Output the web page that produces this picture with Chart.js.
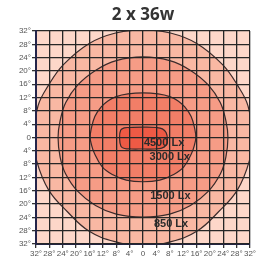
<!DOCTYPE html>
<html><head><meta charset="utf-8">
<script src="https://cdn.jsdelivr.net/npm/chart.js@4/dist/chart.umd.min.js"></script>
<style>html,body{margin:0;padding:0;background:#fff;overflow:hidden}</style>
</head><body>
<canvas id="c" width="265" height="260"></canvas>
<script>
// ---- data (degrees) ----
const chartTitle = '2 x 36w';
const tickLabels = ['32°','28°','24°','20°','16°','12°','8°','4°','0','4°','8°','12°','16°','20°','24°','28°','32°'];
const contourNames = ['850 Lx', '1500 Lx', '3000 Lx', '4500 Lx'];

const lux850X = [0, 8.2, 16.2, 23.8, 28.2, 31.4, 32.6, 31.8, 28.2, 22.6, 16.2, 8.4, 0, -8.4, -16.2, -22.6, -28.2, -31.8, -32.6, -31.4, -28.2, -23.8, -16.2, -8.2];
const lux850Y = [32.3, 31.4, 28.2, 21.9, 15.8, 9.5, 0, -7.0, -15.8, -22.3, -28.1, -31.3, -32.6, -31.3, -28.1, -22.3, -15.8, -7.0, 0, 9.5, 15.8, 21.9, 28.2, 31.4];

const lux1500X = [0, 8, 14, 19.5, 23.1, 24.8, 25.4, 24.8, 23.2, 19.5, 14.2, 8, 0, -8, -14.2, -19.5, -23.2, -24.8, -25.4, -24.8, -23.1, -19.5, -14, -8];
const lux1500Y = [24.2, 23.1, 20.3, 15.8, 10.5, 5, 0, -5.8, -10.8, -16.2, -20.4, -23, -23.9, -23, -20.4, -16.2, -10.8, -5.8, 0, 5, 10.5, 15.8, 20.3, 23.1];

const lux3000X = [0, 4.5, 8, 10.5, 12.5, 14.4, 15.5, 15.8, 15.5, 14.6, 12.2, 9, 5, 0, -5, -9, -12.2, -14.6, -15.5, -15.8, -15.5, -14.4, -12.5, -10.5, -8, -4.5];
const lux3000Y = [13.4, 13.1, 12.3, 11, 9.2, 6.3, 2.5, 0, -1.8, -4.6, -8.8, -11.2, -12.8, -13.3, -12.8, -11.2, -8.8, -4.6, -1.8, 0, 2.5, 6.3, 9.2, 11, 12.3, 13.1];

const lux4500X = [-4, 0, 4, 5.8, 6.9, 7.3, 6.9, 5.6, 3.5, 0, -3.5, -5.5, -6.6, -7.0, -6.7, -5.6];
const lux4500Y = [3.0, 3.1, 3.0, 2.6, 1.5, -0.5, -2.3, -3.2, -3.45, -3.45, -3.45, -3.3, -2.6, -0.3, 2.2, 2.9];

const labelX = [8.4, 8.2, 8.0, 6.3];
const labelY = [-26.1, -17.7, -5.9, -1.6];

// ---- styles ----
const plotBg = '#fdd7c9';
const fills = ['#f9b8a3', '#f69c86', '#f27e67', '#ee5a45'];

const toPts = (xs, ys) => xs.map((x, i) => ({x, y: ys[i]}));
const contours = [
  toPts(lux850X, lux850Y),
  toPts(lux1500X, lux1500Y),
  toPts(lux3000X, lux3000Y),
  toPts(lux4500X, lux4500Y)
];

// innermost first so it is drawn on top
const datasets = [3, 2, 1, 0].map(k => ({
  label: contourNames[k],
  data: contours[k],
  showLine: true,
  fill: 'shape',
  backgroundColor: fills[k],
  borderColor: '#3a2a2a',
  borderWidth: 1.2,
  tension: 0.4,
  pointRadius: 0,
  pointHoverRadius: 0
}));

const loopPlugin = {
  id: 'loopPlugin',
  afterDatasetsUpdate(chart) {
    chart.data.datasets.forEach((ds, i) => {
      const line = chart.getDatasetMeta(i).dataset;
      if (line) {
        line._loop = true;
        line._fullLoop = true;
        delete line._segments;
        line._path = undefined;
        line._pointsUpdated = false;
      }
    });
  }
};

const bgPlugin = {
  id: 'bgPlugin',
  beforeDraw(chart) {
    const {ctx, chartArea: a} = chart;
    ctx.save();
    ctx.fillStyle = plotBg;
    ctx.fillRect(a.left, a.top, a.right - a.left, a.bottom - a.top);
    ctx.restore();
  }
};

const labelPlugin = {
  id: 'labelPlugin',
  afterDraw(chart) {
    const {ctx, chartArea: a, scales: {x, y}} = chart;
    ctx.save();
    ctx.textAlign = 'center';
    ctx.textBaseline = 'middle';
    ctx.font = 'bold 17px "Open Sans", sans-serif';
    ctx.fillStyle = '#333';
    ctx.fillText(chartTitle, (a.left + a.right) / 2, 15.5);
    ctx.font = 'bold 11px "Liberation Sans", Arial, sans-serif';
    ctx.fillStyle = '#2b2b2b';
    contourNames.forEach((t, i) => {
      ctx.fillText(t, x.getPixelForValue(labelX[i]), y.getPixelForValue(labelY[i]));
    });
    ctx.restore();
  }
};

const gridColor = '#262626';
const axisCommon = {
  type: 'linear',
  min: -32, max: 32,
  grid: { color: gridColor, lineWidth: 1.3, tickLength: 4, tickColor: '#333', z: 1 },
  border: { color: '#25254a', width: 2, z: 1 },
  ticks: {
    stepSize: 4,
    autoSkip: false,
    maxRotation: 0,
    padding: 1,
    color: '#555',
    font: { family: '"Liberation Sans", Arial, sans-serif', size: 8 },
    callback: (v, i) => tickLabels[i]
  }
};

new Chart(document.getElementById('c'), {
  type: 'scatter',
  data: { datasets },
  options: {
    responsive: false,
    devicePixelRatio: 1,
    animation: false,
    events: [],
    layout: { padding: { left: 0, right: 15, top: 31, bottom: 0 } },
    plugins: {
      legend: { display: false },
      tooltip: { enabled: false },
      title: { display: false }
    },
    scales: {
      x: Object.assign({}, axisCommon, {
        position: 'bottom',
        afterFit: s => { s.height = 16; }
      }),
      y: Object.assign({}, axisCommon, {
        position: 'left',
        afterFit: s => { s.width = 36; }
      })
    }
  },
  plugins: [bgPlugin, loopPlugin, labelPlugin]
});
</script>
</body></html>
